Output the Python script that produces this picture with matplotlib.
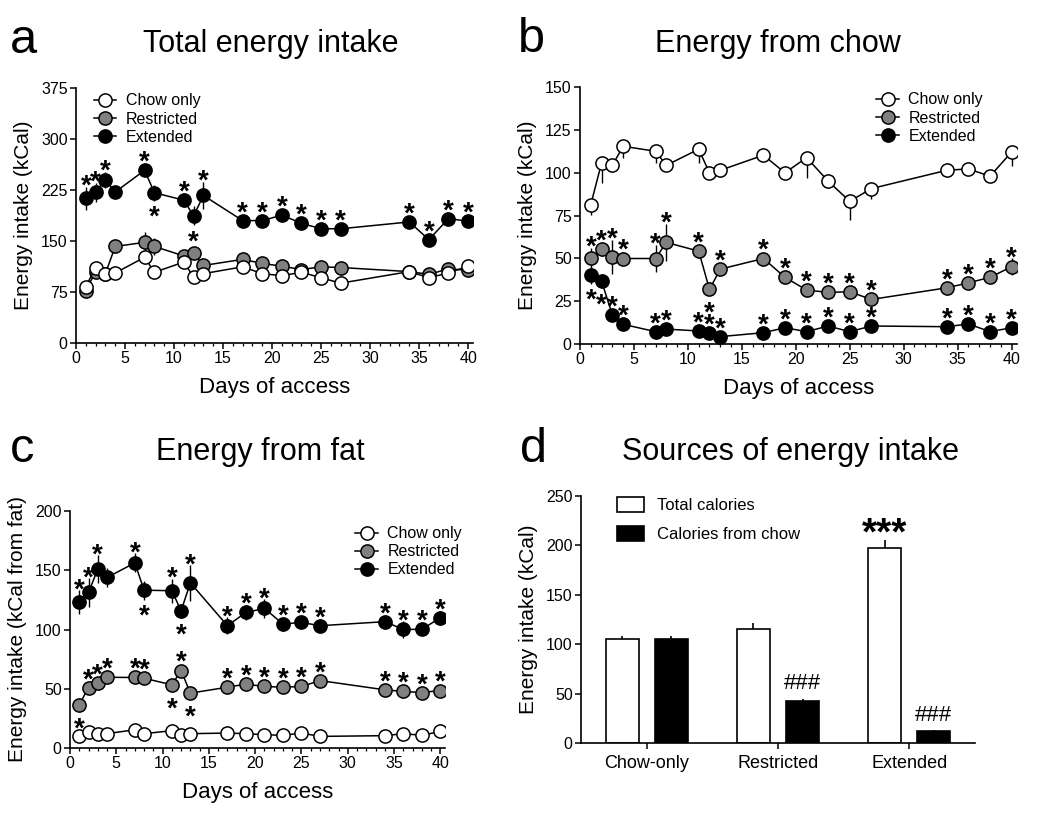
import matplotlib
matplotlib.use("Agg")
import matplotlib.pyplot as plt
from matplotlib.lines import Line2D
from matplotlib.patches import Patch
from matplotlib.ticker import MultipleLocator

plt.rcParams['font.family'] = ['Liberation Sans', 'DejaVu Sans']

# days of access (same for panels a-c)
days = [1, 2, 3, 4, 7, 8, 11, 12, 13, 17, 19, 21, 23, 25, 27, 34, 36, 38, 40]

# a: total energy intake
a_chow = [83, 111, 102, 103, 126, 104, 119, 97, 102, 112, 102, 99, 104, 96, 88, 105, 96, 103, 113]
a_chow_err = [4, 5, 3, 3, 10, 3, 4, 3, 3, 4, 3, 3, 3, 3, 3, 3, 3, 3, 3]
a_res = [77, 105, 102, 142, 148, 142, 128, 132, 114, 123, 117, 113, 108, 112, 111, 105, 101, 109, 107]
a_res_err = [4, 6, 4, 6, 15, 12, 5, 4, 4, 4, 4, 4, 8, 4, 4, 4, 4, 4, 4]
a_ext = [213, 222, 240, 222, 254, 221, 210, 187, 217, 180, 180, 188, 176, 168, 168, 178, 152, 183, 179]
a_ext_err = [17, 14, 12, 8, 6, 12, 10, 14, 20, 6, 5, 7, 5, 5, 5, 6, 5, 7, 5]
a_ext_star = [1, 1, 1, 0, 1, -1, 1, -1, 1, 1, 1, 1, 1, 1, 1, 1, 1, 1, 1]

# b: energy from chow
b_chow = [81.4, 105.7, 104.3, 115.4, 112.5, 104.3, 113.7, 99.9, 101.4, 110.2, 99.9, 108.8, 95.0, 83.3, 90.7, 101.4, 102.2, 97.9, 112.1]
b_chow_err = [6, 12, 2, 7, 7, 2, 8, 2, 2, 2, 2, 12, 4, 11, 6, 2, 2, 2, 8]
b_res = [50.3, 55.2, 50.9, 49.9, 49.9, 59.3, 54.2, 31.9, 43.7, 49.9, 38.9, 31.5, 30.1, 30.5, 26.0, 32.8, 35.7, 38.9, 45.1]
b_res_err = [6, 4, 10, 4, 8, 11, 4, 3, 3, 3, 3, 3, 3, 3, 3, 3, 3, 3, 5]
b_res_star = [1, 1, 1, 1, 1, 1, 1, -1, 1, 1, 1, 1, 1, 1, 1, 1, 1, 1, 1]
b_ext = [40.2, 36.7, 16.9, 11.5, 7.2, 8.7, 7.6, 6.2, 4.3, 6.6, 9.5, 7.2, 10.5, 7.2, 10.5, 10.1, 11.7, 7.2, 9.5]
b_ext_err = [5, 4, 3, 2, 2, 2, 2, 2, 2, 2, 2, 2, 2, 2, 2, 2, 2, 2, 2]
b_ext_star = [-1, -1, 1, 1, 1, 1, 1, 1, 1, 1, 1, 1, 1, 1, 1, 1, 1, 1, 1]

# c: energy from fat
c_chow = [9.8, 13.2, 12.1, 12.1, 15.4, 12.1, 14.6, 11.2, 12.1, 12.6, 12.1, 11.2, 10.7, 12.6, 9.8, 10.4, 12.1, 10.7, 14.0]
c_chow_err = [2] * 19
c_res = [36.5, 51.0, 54.7, 59.7, 59.5, 58.9, 53.3, 65.4, 46.3, 51.3, 53.9, 51.9, 51.3, 51.9, 56.9, 49.1, 47.7, 46.8, 48.5]
c_res_err = [3, 3, 3, 3, 3, 3, 4, 5, 3, 3, 3, 3, 3, 3, 3, 3, 3, 3, 3]
c_res_star = [-1, 1, 1, 1, 1, 1, -1, 1, -1, 1, 1, 1, 1, 1, 1, 1, 1, 1, 1]
c_ext = [123.4, 131.3, 150.9, 143.9, 156.2, 133.2, 132.7, 115.8, 139.4, 103.2, 114.4, 117.8, 104.6, 106.0, 103.2, 106.6, 100.1, 100.1, 110.0]
c_ext_err = [10, 12, 12, 8, 8, 8, 10, 6, 15, 7, 6, 8, 6, 5, 5, 6, 7, 5, 6]
c_ext_star = [1, 1, 1, 0, 1, -1, 1, -1, 1, 1, 1, 1, 1, 1, 1, 1, 1, 1, 1]

# d: sources of energy intake
groups = ['Chow-only', 'Restricted', 'Extended']
total_cal = [105, 115, 197]
total_err = [3, 6, 8]
chow_cal = [105, 43, 12]
chow_err = [3, 2, 1]

GRAY = '#808080'
STAR_FS = 20

fig = plt.figure(figsize=(10.5, 8.16), dpi=100)


def px_axes(l, r, top, bot):
    return fig.add_axes([l / 1050, 1 - bot / 816, (r - l) / 1050, (bot - top) / 816])


def style_axes(ax):
    for s in ['top', 'right']:
        ax.spines[s].set_visible(False)
    for s in ['left', 'bottom']:
        ax.spines[s].set_linewidth(1.2)
    ax.tick_params(direction='out', length=4, width=1.1, labelsize=11.5, pad=2)
    ax.tick_params(which='minor', direction='out', length=2.5, width=0.9)


def add_stars(ax, y, err, dirs, ylim):
    h_pt = ax.get_position().height * 8.16 * 72
    scale = h_pt / (ylim[1] - ylim[0])
    mid = 0.56 * STAR_FS  # asterisk sits high above the baseline
    for x, v, e, d in zip(days, y, err, dirs):
        if d == 0:
            continue
        off = max(e * scale + 6, 11.5)
        ax.annotate('*', xy=(x, v), xytext=(0, d * off - mid), textcoords='offset points',
                    ha='center', va='baseline', fontsize=STAR_FS, fontweight='bold')


def time_panel(ax, series, ylim, ystep):
    for y, err, face, lower_only in series:
        yerr = [err, [0] * len(err)] if lower_only else err
        ax.errorbar(days, y, yerr=yerr, fmt='none', ecolor='black', elinewidth=1, capsize=0, zorder=2)
        ax.plot(days, y, '-o', color='black', lw=1.1, ms=9.5, mfc=face, mec='black', mew=1.1, zorder=3)
    ax.set_xlim(0, 40.5)
    ax.set_ylim(*ylim)
    ax.xaxis.set_major_locator(MultipleLocator(5))
    ax.xaxis.set_minor_locator(MultipleLocator(1))
    ax.yaxis.set_major_locator(MultipleLocator(ystep))
    ax.set_xlabel('Days of access', fontsize=16, labelpad=8)
    style_axes(ax)


def line_legend(ax, **kw):
    handles = [Line2D([], [], color='black', lw=1.1, marker='o', ms=9.5, mfc=f, mec='black', mew=1.1)
               for f in ['white', GRAY, 'black']]
    ax.legend(handles, ['Chow only', 'Restricted', 'Extended'], frameon=False, fontsize=11.5,
              handlelength=1.4, handletextpad=0.6, labelspacing=0.2, borderpad=0, **kw)


# panel a
ax_a = px_axes(76, 473, 88, 343)
time_panel(ax_a, [(a_ext, a_ext_err, 'black', False), (a_res, a_res_err, GRAY, False),
                  (a_chow, a_chow_err, 'white', False)], (0, 375), 75)
add_stars(ax_a, a_ext, a_ext_err, a_ext_star, (0, 375))
ax_a.set_ylabel('Energy intake (kCal)', fontsize=15, labelpad=6)
line_legend(ax_a, loc='upper left', bbox_to_anchor=(0.025, 1.01))

# panel b
ax_b = px_axes(580, 1017, 87, 344)
time_panel(ax_b, [(b_ext, b_ext_err, 'black', False), (b_res, b_res_err, GRAY, False),
                  (b_chow, b_chow_err, 'white', True)], (0, 150), 25)
add_stars(ax_b, b_res, b_res_err, b_res_star, (0, 150))
add_stars(ax_b, b_ext, b_ext_err, b_ext_star, (0, 150))
ax_b.set_ylabel('Energy intake (kCal)', fontsize=15, labelpad=6)
line_legend(ax_b, loc='upper left', bbox_to_anchor=(0.66, 1.01))

# panel c
ax_c = px_axes(70, 445, 511, 748)
time_panel(ax_c, [(c_ext, c_ext_err, 'black', False), (c_res, c_res_err, GRAY, False),
                  (c_chow, c_chow_err, 'white', False)], (0, 200), 50)
add_stars(ax_c, c_ext, c_ext_err, c_ext_star, (0, 200))
add_stars(ax_c, c_res, c_res_err, c_res_star, (0, 200))
ax_c.set_ylabel('Energy intake (kCal from fat)', fontsize=15, labelpad=6)
line_legend(ax_c, loc='upper left', bbox_to_anchor=(0.74, 0.97))

# panel d
ax_d = px_axes(581, 975, 496, 743)
idx = range(len(groups))
off = 0.187
w = 0.25
ax_d.bar([i - off for i in idx], total_cal, w, color='white', edgecolor='black', lw=1.2,
         yerr=[[0] * 3, total_err], error_kw=dict(elinewidth=1.2, capsize=0), label='Total calories')
ax_d.bar([i + off for i in idx], chow_cal, w, color='black', edgecolor='black', lw=1.2,
         yerr=[[0] * 3, chow_err], error_kw=dict(elinewidth=1.2, capsize=0), label='Calories from chow')
ax_d.annotate('***', xy=(2 - off, total_cal[2] + total_err[2]), xytext=(0, -9), textcoords='offset points',
              ha='center', va='bottom', fontsize=28, fontweight='bold')
for i in [1, 2]:
    ax_d.annotate('###', xy=(i + off, chow_cal[i] + chow_err[i]), xytext=(0, 3), textcoords='offset points',
                  ha='center', va='bottom', fontsize=16)
ax_d.set_xlim(-0.5, 2.5)
ax_d.set_ylim(0, 250)
ax_d.set_xticks(list(idx))
ax_d.set_xticklabels(groups, fontsize=13)
ax_d.yaxis.set_major_locator(MultipleLocator(50))
style_axes(ax_d)
ax_d.tick_params(axis='x', labelsize=13, pad=5)
ax_d.set_ylabel('Energy intake (kCal)', fontsize=15, labelpad=6)
ax_d.legend(handles=[Patch(facecolor='white', edgecolor='black', lw=1.2, label='Total calories'),
                     Patch(facecolor='black', edgecolor='black', lw=1.2, label='Calories from chow')],
            loc='upper left', bbox_to_anchor=(0.07, 1.03), frameon=False, fontsize=12,
            handlelength=1.6, handleheight=1.0, labelspacing=0.75, borderpad=0)

# panel letters and titles
for x, y, s in [(10, 53, 'a'), (518, 52, 'b'), (10, 462, 'c'), (520, 462, 'd')]:
    fig.text(x / 1050, 1 - y / 816, s, fontsize=35, va='baseline', ha='left')
for x, y, s in [(271, 52, 'Total energy intake'), (778, 52, 'Energy from chow'),
                (260, 460, 'Energy from fat'), (791, 460, 'Sources of energy intake')]:
    fig.text(x / 1050, 1 - y / 816, s, fontsize=22, va='baseline', ha='center')

fig.savefig('out.png', dpi=100)
